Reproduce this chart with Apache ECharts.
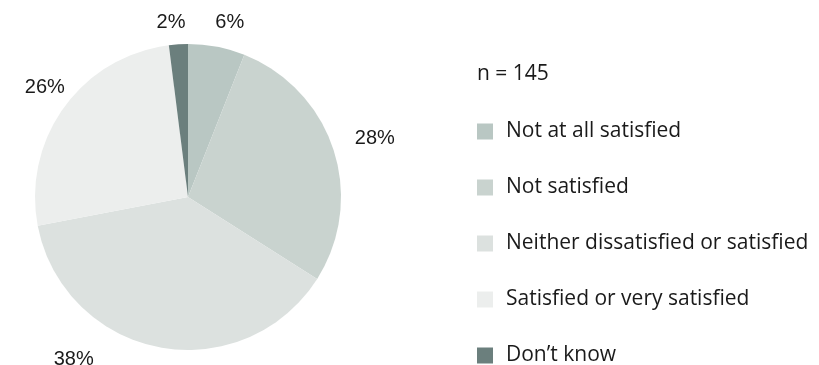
<!DOCTYPE html>
<html>
<head>
<meta charset="utf-8">
<script src="https://cdn.jsdelivr.net/npm/echarts@6/dist/echarts.min.js"></script>
<style>
  html, body { margin: 0; padding: 0; background: #ffffff; }
  #chart { width: 819px; height: 365px; }
</style>
</head>
<body>
<div id="chart"></div>
<script>
// Satisfaction survey responses (share of respondents, %)
const categories = [
  'Not at all satisfied',
  'Not satisfied',
  'Neither dissatisfied or satisfied',
  'Satisfied or very satisfied',
  'Don\u2019t know'
];
const shares = [6, 28, 38, 26, 2];
const palette = ['#b9c7c3', '#c9d3cf', '#dce1df', '#eceeed', '#6b7f7d'];
const sampleNote = 'n = 145';

// small nudges for the percentage labels around the rim
const labelNudge = [[-9, -10], [3, -7], [-58, -2], [17, -11], [13, -8]];

const chart = echarts.init(document.getElementById('chart'), null, { renderer: 'canvas' });

chart.setOption({
  animation: false,
  backgroundColor: '#ffffff',
  color: palette,
  graphic: [{
    type: 'text',
    left: 477,
    top: 64,
    style: {
      text: sampleNote,
      font: '21px "Open Sans"',
      fill: '#1a1a1a'
    }
  }],
  legend: {
    orient: 'vertical',
    left: 477,
    top: 121,
    height: 280,
    padding: 0,
    itemWidth: 16,
    itemHeight: 16,
    itemGap: 35,
    icon: 'rect',
    data: categories,
    textStyle: {
      fontFamily: 'Open Sans',
      fontSize: 21,
      lineHeight: 20,
      color: '#1a1a1a',
      padding: [0, 0, 0, 8]
    }
  },
  series: [{
    type: 'pie',
    center: [188, 197],
    radius: [0, 153],
    startAngle: 90,
    clockwise: true,
    avoidLabelOverlap: false,
    label: {
      show: true,
      position: 'outside',
      formatter: '{c}%',
      fontFamily: 'Liberation Sans',
      fontSize: 20,
      color: '#1a1a1a'
    },
    labelLine: { show: false, length: 14, length2: 0 },
    labelLayout: function (params) {
      const n = labelNudge[params.dataIndex];
      return { dx: n[0], dy: n[1] };
    },
    itemStyle: { borderWidth: 0 },
    emphasis: { disabled: true },
    data: categories.map((name, i) => ({ name, value: shares[i] }))
  }]
});
</script>
</body>
</html>
